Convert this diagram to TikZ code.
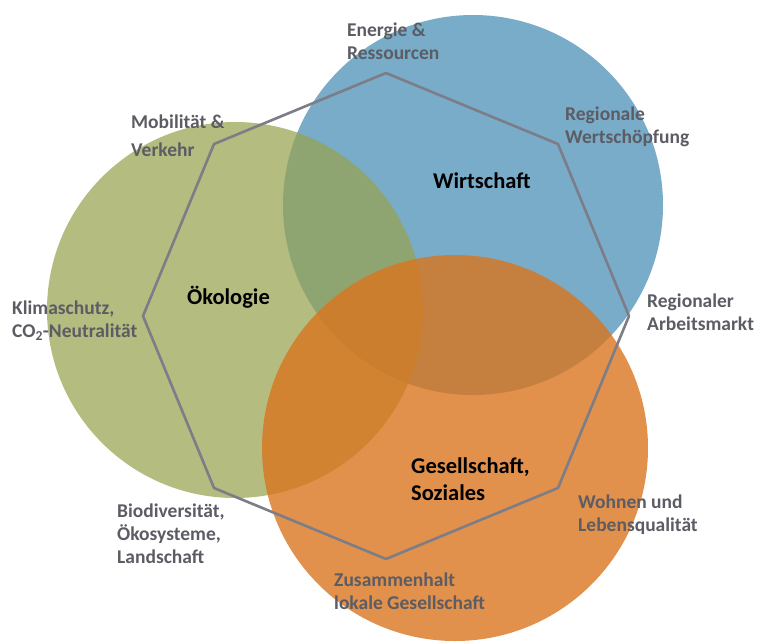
\documentclass[tikz,border=0pt]{standalone}
\usepackage{fontspec}
\setmainfont{Carlito}
\definecolor{wblue}{RGB}{120,172,200}
\definecolor{ogreen}{RGB}{152,163,81}
\definecolor{sorange}{RGB}{217,117,30}
\definecolor{lblgray}{RGB}{92,92,100}
\definecolor{octgray}{RGB}{125,125,135}
\begin{document}
\begin{tikzpicture}[x=1pt,y=-1pt,
  sublabel/.style={font=\bfseries\fontsize{19.5}{23}\selectfont, text=lblgray, align=left, anchor=west, inner sep=0pt},
  mainlabel/.style={font=\bfseries\fontsize{22.5}{27}\selectfont, text=black, align=left, inner sep=0pt},
  octline/.style={draw=octgray, line width=2.6pt, line join=round}]
\useasboundingbox (0,0) rectangle (758,641);
% circles
\fill[wblue] (473,205) circle (190pt);
\fill[ogreen, fill opacity=0.73] (235,310) circle (188pt);
\fill[sorange, fill opacity=0.8] (455,448) circle (193pt);
% octagon vertices
\coordinate (vE) at (386,73);
\coordinate (vW) at (558,144);
\coordinate (vA) at (629,316);
\coordinate (vL) at (558,488);
\coordinate (vZ) at (386,559);
\coordinate (vB) at (214,488);
\coordinate (vK) at (143,316);
\coordinate (vM) at (214,144);
\draw[octline] (vE) -- (vW) -- (vA) -- (vL) -- (vZ) -- (vB) -- (vK) -- (vM) -- cycle;
% main labels
\node[mainlabel, anchor=base west] (wirt) at (433,188) {Wirtschaft};
\node[mainlabel, anchor=base west] (oeko) at (187,304) {Ökologie};
\node[mainlabel, anchor=west] (gese) at (411,479) {Gesellschaft,\\Soziales};
% sub labels
\node[sublabel] (energie) at (347,41.5) {Energie \&\\Ressourcen};
\node[sublabel] (mobil) at (131,136) {Mobilität \&\\[5pt]Verkehr};
\node[sublabel] (wert) at (565,126.5) {Regionale\\Wertschöpfung};
\node[sublabel] (klima) at (12,320.5) {Klimaschutz,\\CO\textsubscript{2}-Neutralität};
\node[sublabel] (arbeit) at (647,312.5) {Regionaler\\Arbeitsmarkt};
\node[sublabel] (wohnen) at (578,515) {Wohnen und\\Lebensqualität};
\node[sublabel] (zusam) at (334,591.5) {Zusammenhalt\\lokale Gesellschaft};
\node[sublabel] (bio) at (117,533.5) {Biodiversität,\\Ökosysteme,\\Landschaft};
\end{tikzpicture}
\end{document}
